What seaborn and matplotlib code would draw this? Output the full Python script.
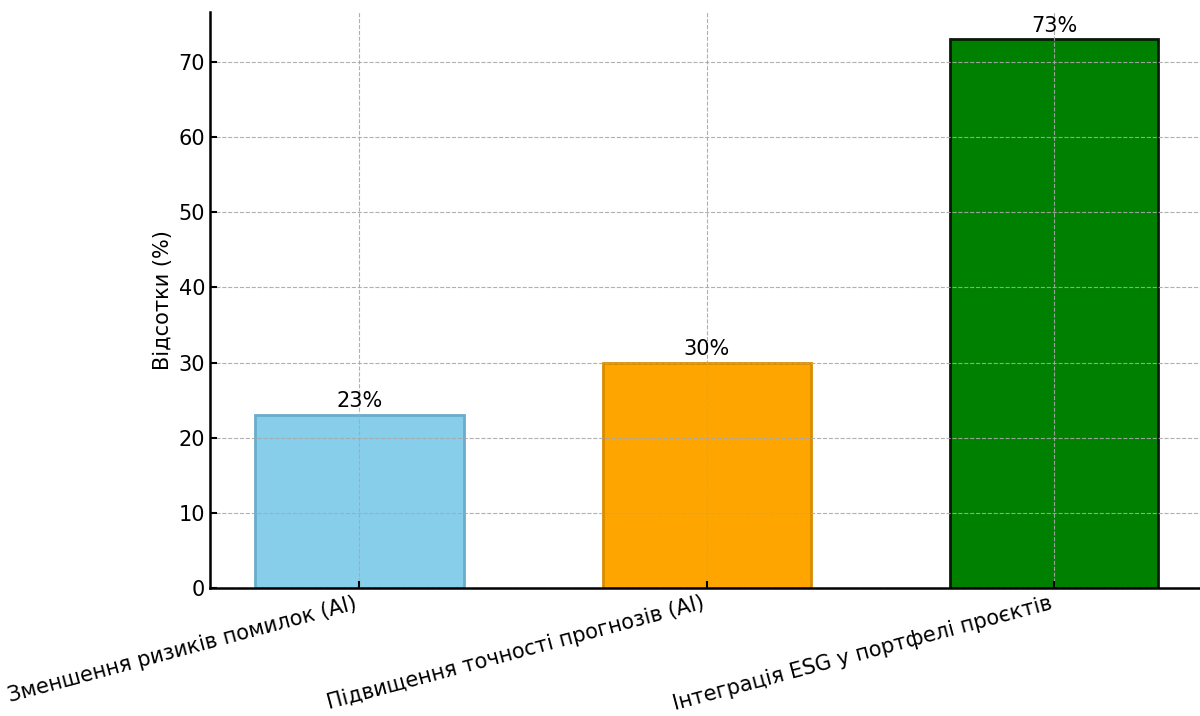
import matplotlib
matplotlib.use("Agg")
import matplotlib.pyplot as plt
import seaborn as sns
import pandas as pd

categories = [
    "Зменшення ризиків помилок (AI)",
    "Підвищення точності прогнозів (AI)",
    "Інтеграція ESG у портфелі проєктів",
]
values = [23, 30, 73]
bar_colors = ["skyblue", "orange", "green"]
edge_colors = ["#6aaccb", "#d98c00", "#0a1a0a"]

sns.set_style("white")
plt.rcParams["font.family"] = ["DejaVu Sans"]
plt.rcParams["text.color"] = "black"

df = pd.DataFrame({"category": categories, "value": values})

fig = plt.figure(figsize=(12, 7.16), dpi=100)
ax = fig.add_axes([0.175, 0.1788, 0.828, 0.8044])

sns.barplot(data=df, x="category", y="value", hue="category",
            palette=bar_colors, width=0.6, legend=False, ax=ax,
            saturation=1)

for patch, ec in zip(ax.patches, edge_colors):
    patch.set_edgecolor(ec)
    patch.set_linewidth(2)

for patch, v in zip(ax.patches, values):
    ax.text(patch.get_x() + patch.get_width() / 2, v + 0.5, f"{v}%",
            ha="center", va="bottom", fontsize=15, color="black")

ax.set_ylim(0, max(values) * 1.05)
ax.set_xlim(-0.43, 2.43)
ax.set_xlabel("")
ax.set_ylabel("Відсотки (%)", fontsize=15, color="black")
ax.grid(True, linestyle="--", color="#a8a8a8", linewidth=0.8, alpha=0.9)
ax.set_axisbelow(False)

ax.tick_params(axis="both", direction="in", length=5, width=1.5,
               labelsize=15, colors="black", bottom=True, left=True)
plt.setp(ax.get_xticklabels(), rotation=15, ha="right")

for side in ["top", "right"]:
    ax.spines[side].set_visible(False)
for side in ["left", "bottom"]:
    ax.spines[side].set_color("black")
    ax.spines[side].set_linewidth(1.8)

fig.savefig("out.png", dpi=100)
